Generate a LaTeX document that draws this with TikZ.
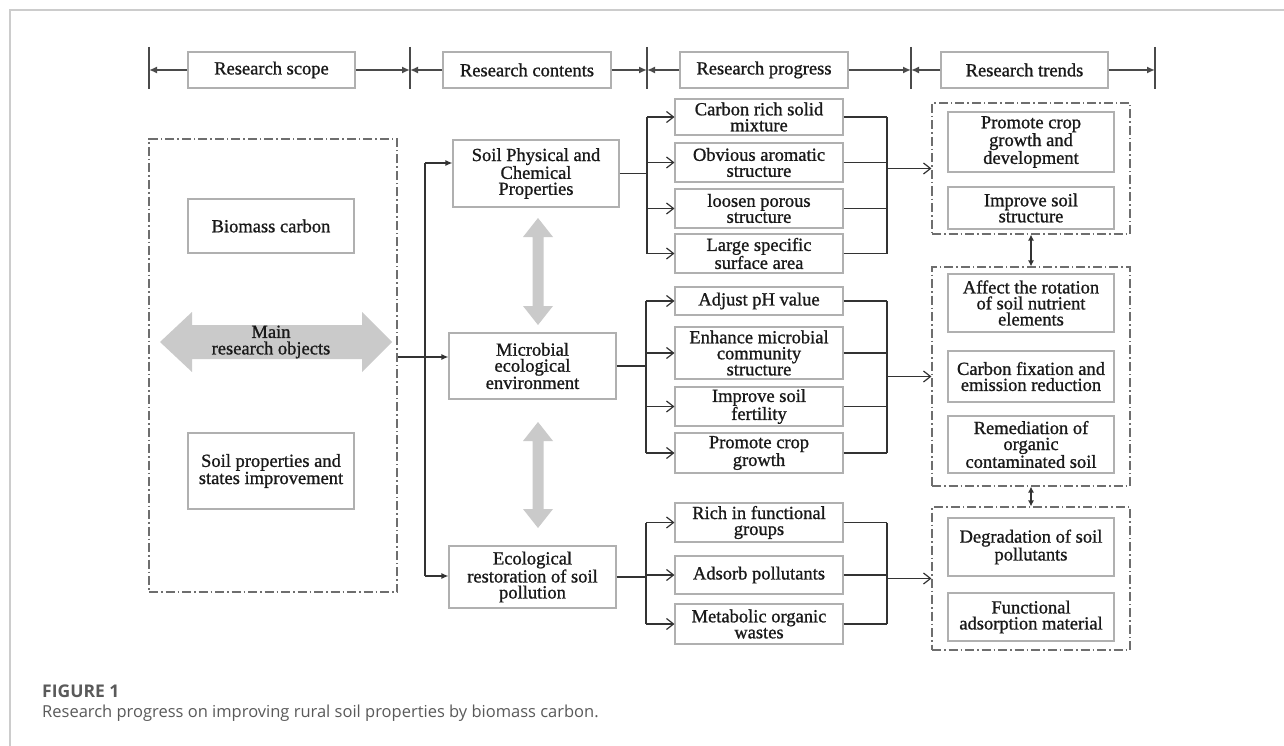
\documentclass[tikz,border=0pt]{standalone}
\usepackage{fontspec}
\setmainfont{Liberation Serif}
\newfontfamily\diagfont{Liberation Serif}[FakeBold=1.0]
\newfontfamily\capfont{Open Sans}
\usetikzlibrary{arrows.meta}
\definecolor{boxgray}{HTML}{B0B0B0}
\definecolor{linedark}{HTML}{333333}
\definecolor{hdrline}{HTML}{4A4A4A}
\definecolor{dashgray}{HTML}{6E6E6E}
\definecolor{bigarrow}{HTML}{CACACA}
\definecolor{framegray}{HTML}{CCCCCC}
\definecolor{captxt}{HTML}{5A5A5A}
\newcommand\mkbox[7]{\node[#1,minimum width={#5-#3},minimum height={#6-#4}] (#2) at ({(#3+#5)/2},{(#4+#6)/2}) {#7};}
\newcommand\vdarrow[3]{\fill[bigarrow] (#1,#2) -- ++(15,19) -- ++(-9.5,0) -- ({#1+5.5},{#3-19}) -- ++(9.5,0) -- (#1,#3) -- ++(-15,-19) -- ++(9.5,0) -- ({#1-5.5},{#2+19}) -- ++(-9.5,0) -- cycle;}
\begin{document}
\begin{tikzpicture}[x=1pt,y=-1pt,
  box/.style={draw=boxgray,line width=1.1pt,fill=white,align=center,inner sep=0pt,font=\diagfont\fontsize{18.5}{16}\selectfont,text=black!90},
  dashbox/.style={draw=dashgray,line width=1.1pt,dash pattern=on 9pt off 3pt on 1.5pt off 3pt,inner sep=0pt},
  conn/.style={draw=linedark,line width=1.25pt},
  fan/.style={conn,-{Straight Barb[length=7pt,width=11pt,line width=1.2pt]}},
  feed/.style={conn,-{Latex[length=7pt,width=6pt]}},
  hdr/.style={draw=hdrline,line width=2.4pt,-{Latex[length=8pt,width=7pt]}},
  bar/.style={draw=hdrline,line width=1.2pt},
  dbl/.style={conn,{Latex[length=6pt,width=6pt]}-{Latex[length=6pt,width=6pt]}},
  plain/.style={align=center,inner sep=0pt,font=\diagfont\fontsize{18.5}{16.5}\selectfont,text=black!90}
]
\useasboundingbox (0,0) rectangle (1284,746);
\fill[white] (0,0) rectangle (1284,746);
\draw[framegray,line width=1.5pt] (10,746) -- (10,10) -- (1284,10);

% header
\coordinate (b0) at (149,68);
\coordinate (b1) at (410,68);
\coordinate (b2) at (647,68);
\coordinate (b3) at (911,68);
\coordinate (b4) at (1155,68);
\foreach \b in {b0,b1,b2,b3,b4} {\draw[bar] (\b) ++(0,-21) -- ++(0,42);}
\mkbox{box}{hs}{188}{52}{355}{88}{Research scope}
\mkbox{box}{hc}{443}{52}{611}{88}{Research contents}
\mkbox{box}{hp}{680}{52}{848}{88}{Research progress}
\mkbox{box}{ht}{941}{52}{1108}{88}{Research trends}
\draw[hdr] (hs.west) -- (hs.west -| b0);
\draw[hdr] (hs.east) -- (hs.east -| b1);
\draw[hdr] (hc.west) -- (hc.west -| b1);
\draw[hdr] (hc.east) -- (hc.east -| b2);
\draw[hdr] (hp.west) -- (hp.west -| b2);
\draw[hdr] (hp.east) -- (hp.east -| b3);
\draw[hdr] (ht.west) -- (ht.west -| b3);
\draw[hdr] (ht.east) -- (ht.east -| b4);

% left column
\mkbox{dashbox}{lbox}{149}{139}{397}{592}{}
\mkbox{box}{bio}{188}{199}{354}{253}{Biomass carbon}
\mkbox{box}{spi}{188}{433}{354}{509}{Soil properties and\\states improvement}
\fill[bigarrow] (160,342) -- (192,312) -- (192,325) -- (362,325) -- (362,312) -- (392,342) -- (362,372) -- (362,359) -- (192,359) -- (192,372) -- cycle;
\node[plain] (mro) at (271,342) {Main\\research objects};

% contents
\mkbox{box}{soil}{453}{140}{619}{207}{Soil Physical and\\Chemical\\Properties}
\mkbox{box}{micro}{449}{333}{616}{399}{Microbial\\ecological\\environment}
\mkbox{box}{eco}{449}{546}{616}{608}{Ecological\\restoration of soil\\pollution}
\vdarrow{538}{218}{325}
\vdarrow{538}{422}{528}

\coordinate (ja) at (425,357);
\coordinate (jt) at (425,163);
\coordinate (jb) at (425,576);
\draw[conn] (lbox.east |- ja) -- (ja);
\draw[conn] (jt) -- (jb);
\draw[feed] (jt) -- (soil.west |- jt);
\draw[feed] (ja) -- (micro.west |- ja);
\draw[feed] (jb) -- (eco.west |- jb);

% progress
\mkbox{box}{pc1}{675}{99}{843}{135}{Carbon rich solid\\mixture}
\mkbox{box}{pc2}{675}{143}{843}{182}{Obvious aromatic\\structure}
\mkbox{box}{pc3}{675}{189}{843}{228}{loosen porous\\structure}
\mkbox{box}{pc4}{675}{234}{843}{273}{Large specific\\surface area}
\mkbox{box}{pm1}{675}{287}{843}{315}{Adjust pH value}
\mkbox{box}{pm2}{675}{327}{843}{379}{Enhance microbial\\community\\structure}
\mkbox{box}{pm3}{675}{387}{843}{426}{Improve soil\\fertility}
\mkbox{box}{pm4}{675}{433}{843}{473}{Promote crop\\growth}
\mkbox{box}{pe1}{675}{503}{843}{542}{Rich in functional\\groups}
\mkbox{box}{pe2}{675}{556}{843}{594}{Adsorb pollutants}
\mkbox{box}{pe3}{675}{604}{843}{644}{Metabolic organic\\wastes}

\coordinate (f1) at (647,0);
\coordinate (f2) at (646,0);
\coordinate (g) at (887,0);
\draw[conn] (soil.east) -- (soil.east -| f1);
\draw[conn] (f1 |- pc1.west) -- (f1 |- pc4.west);
\foreach \n in {pc1,pc2,pc3,pc4} {\draw[fan] (f1 |- \n.west) -- (\n.west);}
\draw[conn] (micro.east) -- (micro.east -| f2);
\draw[conn] (f2 |- pm1.west) -- (f2 |- pm4.west);
\foreach \n in {pm1,pm2,pm3,pm4} {\draw[fan] (f2 |- \n.west) -- (\n.west);}
\draw[conn] (eco.east) -- (eco.east -| f2);
\draw[conn] (f2 |- pe1.west) -- (f2 |- pe3.west);
\foreach \n in {pe1,pe2,pe3} {\draw[fan] (f2 |- \n.west) -- (\n.west);}

% trends
\mkbox{dashbox}{t1}{932}{103}{1130}{234}{}
\mkbox{dashbox}{t2}{932}{267}{1130}{486}{}
\mkbox{dashbox}{t3}{932}{507}{1130}{650}{}
\mkbox{box}{tr1}{948}{112}{1114}{172}{Promote crop\\growth and\\development}
\mkbox{box}{tr2}{948}{187}{1114}{229}{Improve soil\\structure}
\mkbox{box}{tr3}{948}{274}{1114}{332}{Affect the rotation\\of soil nutrient\\elements}
\mkbox{box}{tr4}{948}{351}{1114}{402}{Carbon fixation and\\emission reduction}
\mkbox{box}{tr5}{948}{416}{1114}{473}{Remediation of\\organic\\contaminated soil}
\mkbox{box}{tr6}{948}{518}{1114}{576}{Degradation of soil\\pollutants}
\mkbox{box}{tr7}{948}{593}{1114}{641}{Functional\\adsorption material}

\foreach \n in {pc1,pc2,pc3,pc4,pm1,pm2,pm3,pm4,pe1,pe2,pe3} {\draw[conn] (\n.east) -- (\n.east -| g);}
\draw[conn] (g |- pc1.east) -- (g |- pc4.east);
\draw[conn] (g |- pm1.east) -- (g |- pm4.east);
\draw[conn] (g |- pe1.east) -- (g |- pe3.east);
\draw[fan] (g |- t1.west) -- (t1.west);
\draw[fan] (g |- t2.west) -- (t2.west);
\draw[fan] (g |- t3.west) -- (t3.west);
\draw[dbl] (t1.south) -- (t2.north);
\draw[dbl] (t2.south) -- (t3.north);

% caption
\node[anchor=base west,inner sep=0pt,text=captxt,font=\capfont\bfseries\fontsize{17.5}{20}\selectfont] (fig) at (42,697) {FIGURE 1};
\node[anchor=base west,inner sep=0pt,text=captxt,font=\capfont\fontsize{16.5}{20}\selectfont] (cap) at (42,717) {Research progress on improving rural soil properties by biomass carbon.};
\end{tikzpicture}
\end{document}
